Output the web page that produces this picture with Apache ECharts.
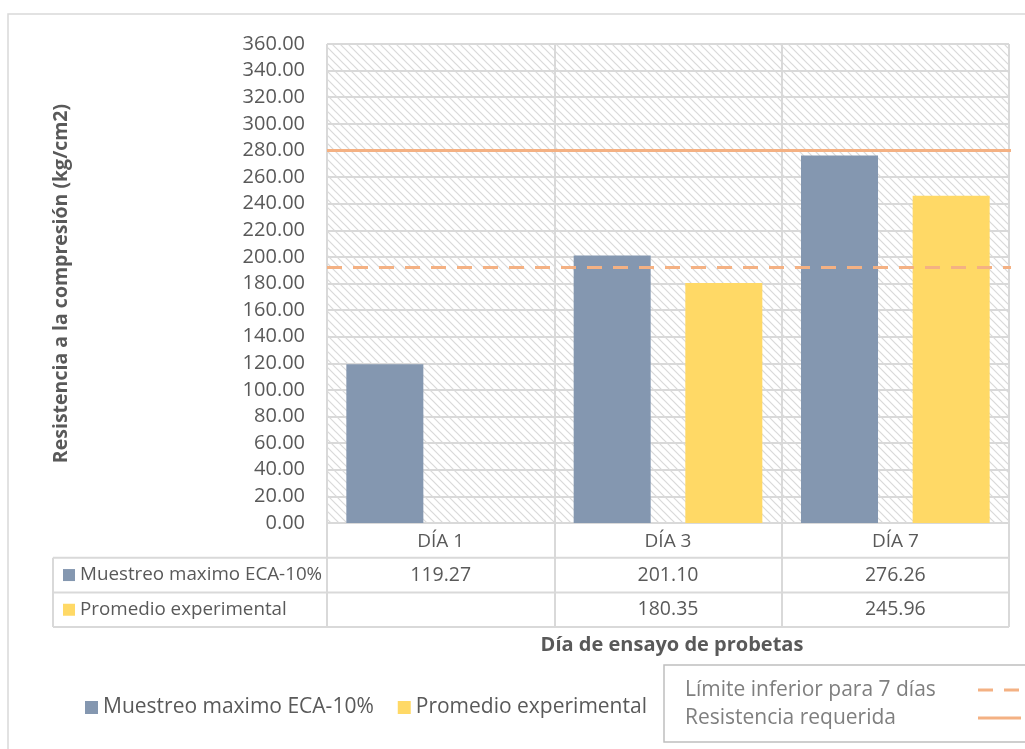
<!DOCTYPE html>
<html>
<head>
<meta charset="utf-8">
<script src="https://cdn.jsdelivr.net/npm/echarts@6/dist/echarts.min.js"></script>
<style>
  html, body { margin: 0; padding: 0; background: #ffffff; }
  #chart { width: 1025px; height: 749px; }
</style>
</head>
<body>
<div id="chart"></div>
<script>
// Compressive strength by test day
const categories = ['DÍA 1', 'DÍA 3', 'DÍA 7'];
const muestreoMaximo = [119.27, 201.10, 276.26];
const promedioExperimental = [null, 180.35, 245.96];
const resistenciaRequerida = 280;
const limiteInferior7Dias = 192;
const yMin = 0;
const yMax = 360;
const yStep = 20;

const barNames = ['Muestreo maximo ECA-10%', 'Promedio experimental'];
const refNames = ['Límite inferior para 7 días', 'Resistencia requerida'];

const barColors = ['#8497b0', '#ffd966'];
const refColor = '#f4b183';
const gridColor = '#d9d9d9';
const textColor = '#595959';
const FONT = 'Open Sans';
const DASH = [15, 11];

// diagonal hatch used as plot background
function hatchPattern() {
  const c = document.createElement('canvas');
  c.width = 8; c.height = 8;
  const g = c.getContext('2d');
  g.strokeStyle = '#d9d9d9';
  g.lineWidth = 1.2;
  g.beginPath();
  g.moveTo(-1, -1); g.lineTo(9, 9);
  g.moveTo(-1, 7); g.lineTo(1, 9);
  g.moveTo(7, -1); g.lineTo(9, 1);
  g.stroke();
  return c;
}

const chart = echarts.init(document.getElementById('chart'), null, { renderer: 'canvas' });

const GRID = { left: 327, right: 16, top: 44, bottom: 226 };

chart.setOption({
  animation: false,
  backgroundColor: '#ffffff',
  textStyle: { fontFamily: FONT },
  grid: {
    left: GRID.left, right: GRID.right, top: GRID.top, bottom: GRID.bottom,
    show: true,
    borderWidth: 0,
    backgroundColor: { image: hatchPattern(), repeat: 'repeat' }
  },
  xAxis: [
    {
      type: 'category',
      data: categories,
      boundaryGap: true,
      axisLine: { show: true, lineStyle: { color: gridColor, width: 2 } },
      axisTick: { show: true, interval: 0, length: 104, lineStyle: { color: gridColor, width: 2 } },
      splitLine: { show: true, interval: 0, lineStyle: { color: gridColor, width: 2 } },
      axisLabel: { color: textColor, fontSize: 19, margin: 9, fontFamily: FONT },
      name: 'Día de ensayo de probetas',
      nameLocation: 'middle',
      nameGap: 112,
      nameTextStyle: { color: textColor, fontSize: 20, fontWeight: 'bold', fontFamily: FONT, padding: [0, 0, 0, 8] }
    },
    {
      type: 'value',
      min: 0,
      max: 1,
      show: false
    }
  ],
  yAxis: {
    type: 'value',
    min: yMin,
    max: yMax,
    interval: yStep,
    axisLine: { show: false },
    axisTick: { show: false },
    splitLine: { show: true, lineStyle: { color: gridColor, width: 2 } },
    axisLabel: {
      color: textColor, fontSize: 20, margin: 22, fontFamily: FONT,
      formatter: v => v.toFixed(2)
    },
    name: 'Resistencia a la compresión (kg/cm2)',
    nameLocation: 'middle',
    nameRotate: 90,
    nameGap: 256,
    nameTextStyle: { color: textColor, fontSize: 19.5, fontWeight: 'bold', fontFamily: FONT }
  },
  legend: {
    data: barNames,
    left: 80,
    top: 692,
    itemWidth: 13,
    itemHeight: 13,
    itemGap: 24,
    icon: 'rect',
    textStyle: { color: textColor, fontSize: 21, fontFamily: FONT }
  },
  series: [
    {
      name: barNames[0],
      type: 'bar',
      xAxisIndex: 0,
      data: muestreoMaximo,
      barWidth: 77,
      barGap: '45%',
      itemStyle: { color: barColors[0] },
      z: 2
    },
    {
      name: barNames[1],
      type: 'bar',
      xAxisIndex: 0,
      data: promedioExperimental,
      barWidth: 77,
      barGap: '45%',
      itemStyle: { color: barColors[1] },
      z: 2
    },
    {
      name: refNames[0],
      type: 'line',
      xAxisIndex: 1,
      data: [[0, limiteInferior7Dias], [1.006, limiteInferior7Dias]],
      symbol: 'none',
      clip: false,
      lineStyle: { color: refColor, width: 3, type: DASH },
      itemStyle: { color: refColor },
      z: 5
    },
    {
      name: refNames[1],
      type: 'line',
      xAxisIndex: 1,
      data: [[0, resistenciaRequerida], [1.006, resistenciaRequerida]],
      symbol: 'none',
      clip: false,
      lineStyle: { color: refColor, width: 3, type: 'solid' },
      itemStyle: { color: refColor },
      z: 5
    }
  ]
});

// data table underneath the category axis, plus the reference-line key
function buildExtras() {
  const baseY = chart.convertToPixel({ yAxisIndex: 0 }, yMin);
  const rowH = 34.7;
  const tableLeft = 53;
  const plotRight = chart.getWidth() - GRID.right;
  const headFont = '18.8px "' + FONT + '"';
  const cellFont = '19.5px "' + FONT + '"';
  const rows = [
    { name: barNames[0], color: barColors[0], values: muestreoMaximo },
    { name: barNames[1], color: barColors[1], values: promedioExperimental }
  ];
  const els = [];
  const hline = (x1, x2, y) => ({
    type: 'line', silent: true,
    shape: { x1: x1, y1: y, x2: x2, y2: y },
    style: { stroke: gridColor, lineWidth: 2 }
  });
  // outer chart frame
  els.push({
    type: 'rect', z: -10, silent: true,
    shape: { x: 8, y: 14, width: 1200, height: 900 },
    style: { fill: 'none', stroke: gridColor, lineWidth: 1.5 }
  });
  rows.forEach((row, i) => {
    const top = baseY + rowH * (i + 1);
    const mid = top + rowH / 2;
    els.push(hline(tableLeft, plotRight, top));
    els.push({
      type: 'rect', silent: true,
      shape: { x: 63, y: mid - 6, width: 12, height: 12 },
      style: { fill: row.color }
    });
    els.push({
      type: 'text', silent: true,
      x: 80, y: mid,
      style: { text: row.name, fill: textColor, font: headFont, verticalAlign: 'middle', align: 'left' }
    });
    row.values.forEach((v, j) => {
      if (v === null || v === undefined) return;
      const cx = chart.convertToPixel({ xAxisIndex: 0 }, categories[j]);
      els.push({
        type: 'text', silent: true,
        x: cx, y: mid,
        style: { text: v.toFixed(2), fill: textColor, font: cellFont, verticalAlign: 'middle', align: 'center' }
      });
    });
  });
  const bottomY = baseY + rowH * (rows.length + 1);
  els.push(hline(tableLeft, plotRight, bottomY));
  els.push({
    type: 'line', silent: true,
    shape: { x1: tableLeft, y1: baseY + rowH, x2: tableLeft, y2: bottomY },
    style: { stroke: gridColor, lineWidth: 2 }
  });

  // key for the two reference lines
  const keyFont = '21px "' + FONT + '"';
  const keyStyles = [DASH, null];
  els.push({
    type: 'rect', silent: true,
    shape: { x: 664, y: 665, width: 420, height: 77 },
    style: { fill: '#ffffff', stroke: '#bfbfbf', lineWidth: 1.5 }
  });
  refNames.forEach((name, i) => {
    const y = 690 + i * 28;
    els.push({
      type: 'text', silent: true,
      x: 685, y: y,
      style: { text: name, fill: '#7f7f7f', font: keyFont, verticalAlign: 'middle', align: 'left' }
    });
    els.push({
      type: 'line', silent: true,
      shape: { x1: 978, y1: y, x2: 1021, y2: y },
      style: { stroke: refColor, lineWidth: 3, lineDash: keyStyles[i] }
    });
  });
  chart.setOption({ graphic: els });
}
buildExtras();
</script>
</body>
</html>
